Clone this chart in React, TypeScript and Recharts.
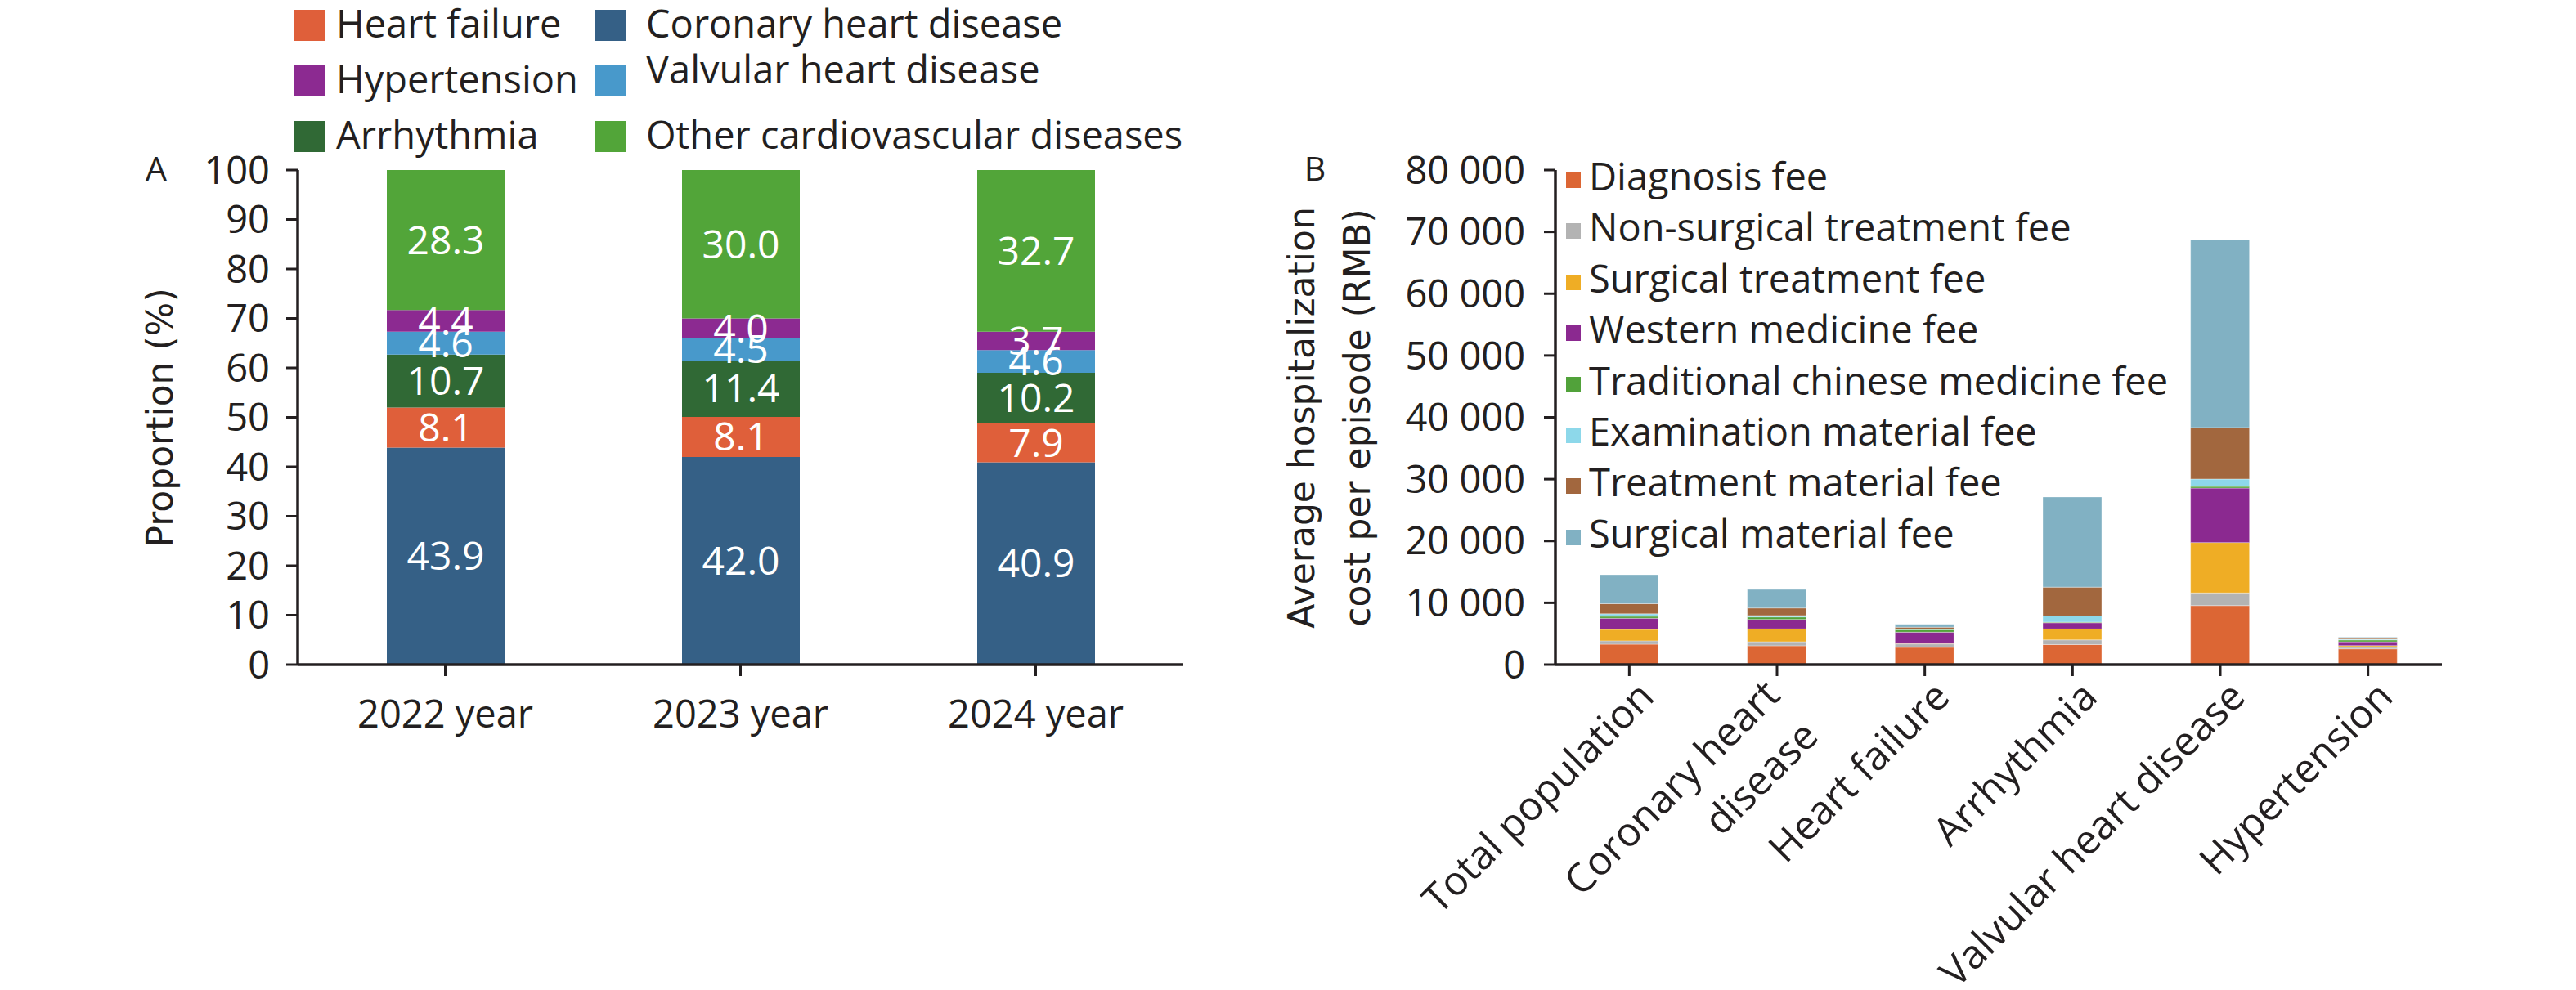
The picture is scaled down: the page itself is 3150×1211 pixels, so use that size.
import React from "react";
import { BarChart, Bar, XAxis, YAxis, LabelList, Legend } from "recharts";

const INK = "#231f20";
const SANS = "'Open Sans', sans-serif";
const TITLE_FONT = "'DejaVu Sans', sans-serif";

// Panel A: share of inpatients by disease (%)
const years = ["2022 year", "2023 year", "2024 year"];
const coronaryShare = [43.9, 42.0, 40.9];
const heartFailureShare = [8.1, 8.1, 7.9];
const arrhythmiaShare = [10.7, 11.4, 10.2];
const valvularShare = [4.6, 4.5, 4.6];
const hypertensionShare = [4.4, 4.0, 3.7];
const otherShare = [28.3, 30.0, 32.7];
const proportionTicks = [0, 10, 20, 30, 40, 50, 60, 70, 80, 90, 100];

// Panel B: average cost per episode (RMB)
const groups = [
  "Total population",
  "Coronary heart disease",
  "Heart failure",
  "Arrhythmia",
  "Valvular heart disease",
  "Hypertension",
];
const groupTickLines = [
  ["Total population"],
  ["Coronary heart", "disease"],
  ["Heart failure"],
  ["Arrhythmia"],
  ["Valvular heart disease"],
  ["Hypertension"],
];
const diagnosisFee = [3300, 3050, 2800, 3250, 9550, 2550];
const nonSurgicalFee = [550, 650, 550, 750, 2050, 260];
const surgicalTreatmentFee = [1850, 2080, 50, 1770, 8150, 260];
const westernMedicineFee = [1800, 1530, 1850, 1000, 8800, 620];
const tcmFee = [320, 400, 400, 100, 270, 300];
const examMaterialFee = [400, 230, 100, 1000, 1200, 100];
const treatmentMaterialFee = [1630, 1220, 300, 4670, 8330, 150];
const surgicalMaterialFee = [4700, 3000, 450, 14580, 30400, 200];
const costTicks = [0, 10000, 20000, 30000, 40000, 50000, 60000, 70000, 80000];

const diseaseSeries = [
  { key: "coronary", name: "Coronary heart disease", color: "#356086", values: coronaryShare },
  { key: "heartFailure", name: "Heart failure", color: "#df5f3a", values: heartFailureShare },
  { key: "arrhythmia", name: "Arrhythmia", color: "#306935", values: arrhythmiaShare },
  { key: "valvular", name: "Valvular heart disease", color: "#4899cb", values: valvularShare },
  { key: "hypertension", name: "Hypertension", color: "#8c2a91", values: hypertensionShare },
  { key: "other", name: "Other cardiovascular diseases", color: "#52a539", values: otherShare },
];

const feeSeries = [
  { key: "diagnosis", name: "Diagnosis fee", color: "#dc6634", values: diagnosisFee },
  { key: "nonSurgical", name: "Non-surgical treatment fee", color: "#b3b3b3", values: nonSurgicalFee },
  { key: "surgical", name: "Surgical treatment fee", color: "#efad25", values: surgicalTreatmentFee },
  { key: "western", name: "Western medicine fee", color: "#8b2990", values: westernMedicineFee },
  { key: "tcm", name: "Traditional chinese medicine fee", color: "#51a23a", values: tcmFee },
  { key: "exam", name: "Examination material fee", color: "#8dd8ea", values: examMaterialFee },
  { key: "treatment", name: "Treatment material fee", color: "#a2673e", values: treatmentMaterialFee },
  { key: "surgicalMaterial", name: "Surgical material fee", color: "#81b1c3", values: surgicalMaterialFee },
];

const shareRows = years.map((year, i) => {
  const row: Record<string, any> = { year };
  diseaseSeries.forEach((s) => (row[s.key] = s.values[i]));
  return row;
});

const costRows = groups.map((group, i) => {
  const row: Record<string, any> = { group };
  feeSeries.forEach((s) => (row[s.key] = s.values[i]));
  return row;
});

const formatCost = (v: number) => (v === 0 ? "0" : `${v / 1000} 000`);

// legend A: two columns, three rows
const legendA = [
  { key: "heartFailure", col: 0, row: 0, dy: 0 },
  { key: "hypertension", col: 0, row: 1, dy: 0 },
  { key: "arrhythmia", col: 0, row: 2, dy: 0 },
  { key: "coronary", col: 1, row: 0, dy: 0 },
  { key: "valvular", col: 1, row: 1, dy: -12 },
  { key: "other", col: 1, row: 2, dy: 0 },
];

function LegendA() {
  const colSquare = [352, 719];
  const colText = [403, 782];
  const rowCenter = [23, 91, 159];
  return (
    <div style={{ position: "relative", width: 1500, height: 200 }}>
      {legendA.map((item) => {
        const s = diseaseSeries.find((d) => d.key === item.key)!;
        return (
          <React.Fragment key={item.key}>
            <div
              style={{
                position: "absolute",
                left: colSquare[item.col],
                top: rowCenter[item.row] - 19,
                width: 38,
                height: 38,
                background: s.color,
              }}
            />
            <div
              style={{
                position: "absolute",
                left: colText[item.col],
                top: rowCenter[item.row] - 2 + item.dy - 31,
                lineHeight: "60px",
                fontSize: 47,
                fontFamily: SANS,
                color: INK,
                whiteSpace: "nowrap",
              }}
            >
              {s.name}
            </div>
          </React.Fragment>
        );
      })}
    </div>
  );
}

function LegendB() {
  return (
    <div style={{ position: "relative", width: 1634, height: 700 }}>
      {feeSeries.map((s, i) => (
        <React.Fragment key={s.key}>
          <div
            style={{
              position: "absolute",
              left: 407,
              top: 203 + i * 62.4,
              width: 18,
              height: 19,
              background: s.color,
            }}
          />
          <div
            style={{
              position: "absolute",
              left: 435,
              top: 208 + i * 62.4 - 31,
              lineHeight: "60px",
              fontSize: 47,
              fontFamily: SANS,
              color: INK,
              whiteSpace: "nowrap",
            }}
          >
            {s.name}
          </div>
        </React.Fragment>
      ))}
    </div>
  );
}

function TitleA() {
  return (
    <g>
      <text x={183} y={213} textAnchor="middle" fontSize={41} fontFamily={SANS} fill={INK}>
        A
      </text>
      <text
        x={203}
        y={503}
        transform="rotate(-90 203 503)"
        textAnchor="middle"
        fontSize={44}
        fontFamily={TITLE_FONT}
        fill={INK}
      >
        Proportion (%)
      </text>
    </g>
  );
}

function TitleB() {
  return (
    <g>
      <text x={100} y={213} textAnchor="middle" fontSize={41} fontFamily={SANS} fill={INK}>
        B
      </text>
      <text
        x={99}
        y={503}
        transform="rotate(-90 99 503)"
        textAnchor="middle"
        fontSize={44}
        fontFamily={TITLE_FONT}
        fill={INK}
      >
        Average hospitalization
      </text>
      <text
        x={167}
        y={503}
        transform="rotate(-90 167 503)"
        textAnchor="middle"
        fontSize={44}
        fontFamily={TITLE_FONT}
        fill={INK}
      >
        cost per episode (RMB)
      </text>
    </g>
  );
}

function GroupTick(props: any) {
  const { x, y, payload } = props;
  const idx = groups.indexOf(payload.value);
  const lines = groupTickLines[idx] || [String(payload.value)];
  const base = lines.length === 1 ? [33, 28] : [6, 26];
  return (
    <g>
      {lines.map((line, i) => {
        const ax = x + base[0] + i * 47;
        const ay = y + base[1] + i * 50;
        return (
          <text
            key={i}
            x={ax}
            y={ay}
            transform={`rotate(-45 ${ax} ${ay})`}
            textAnchor="end"
            fill={INK}
            fontSize={49}
            fontFamily={SANS}
          >
            {line}
          </text>
        );
      })}
    </g>
  );
}

const axisLine = { stroke: INK, strokeWidth: 3.5 };
const tickLine = { stroke: INK, strokeWidth: 3 };
const tickText = { fill: INK, fontSize: 47, fontFamily: SANS };

export default function App() {
  return (
    <div style={{ position: "relative", width: 3134, height: 1195, background: "#fff" }}>
      <div style={{ position: "absolute", left: 0, top: 0 }}>
        <BarChart width={1500} height={1195} data={shareRows} margin={{ top: 200, right: 61, bottom: 0, left: 0 }}>
          <XAxis
            dataKey="year"
            height={390}
            tickSize={14}
            tickMargin={30}
            tick={tickText}
            axisLine={axisLine}
            tickLine={tickLine}
          />
          <YAxis
            width={356}
            domain={[0, 100]}
            ticks={proportionTicks}
            interval={0}
            tickSize={14}
            tickMargin={20}
            tick={tickText}
            axisLine={axisLine}
            tickLine={tickLine}
            label={() => <TitleA />}
          />
          {diseaseSeries.map((s) => (
            <Bar key={s.key} dataKey={s.key} name={s.name} stackId="a" fill={s.color} barSize={144} isAnimationActive={false}>
              <LabelList
                dataKey={s.key}
                position="center"
                fill="#ffffff"
                fontSize={48}
                fontFamily={SANS}
                formatter={(v: any) => Number(v).toFixed(1)}
              />
            </Bar>
          ))}
          <Legend
            layout="horizontal"
            verticalAlign="middle"
            align="center"
            wrapperStyle={{ left: 0, top: 0, width: 1500, height: 200 }}
            content={() => <LegendA />}
          />
        </BarChart>
      </div>
      <div style={{ position: "absolute", left: 1500, top: 0 }}>
        <BarChart width={1634} height={1195} data={costRows} margin={{ top: 200, right: 156, bottom: 0, left: 0 }}>
          <XAxis
            dataKey="group"
            height={390}
            interval={0}
            tickSize={14}
            tickMargin={0}
            tick={(p: any) => <GroupTick {...p} />}
            axisLine={axisLine}
            tickLine={tickLine}
          />
          <YAxis
            width={394}
            domain={[0, 80000]}
            ticks={costTicks}
            interval={0}
            tickSize={14}
            tickMargin={23}
            tickFormatter={formatCost}
            tick={tickText}
            axisLine={axisLine}
            tickLine={tickLine}
            label={() => <TitleB />}
          />
          {feeSeries.map((s) => (
            <Bar
              key={s.key}
              dataKey={s.key}
              name={s.name}
              stackId="b"
              fill={s.color}
              stroke="rgba(255,255,255,0.35)"
              strokeWidth={1}
              barSize={72}
              isAnimationActive={false}
            />
          ))}
          <Legend
            layout="horizontal"
            verticalAlign="middle"
            align="center"
            wrapperStyle={{ left: 0, top: 0, width: 1634, height: 700 }}
            content={() => <LegendB />}
          />
        </BarChart>
      </div>
    </div>
  );
}
